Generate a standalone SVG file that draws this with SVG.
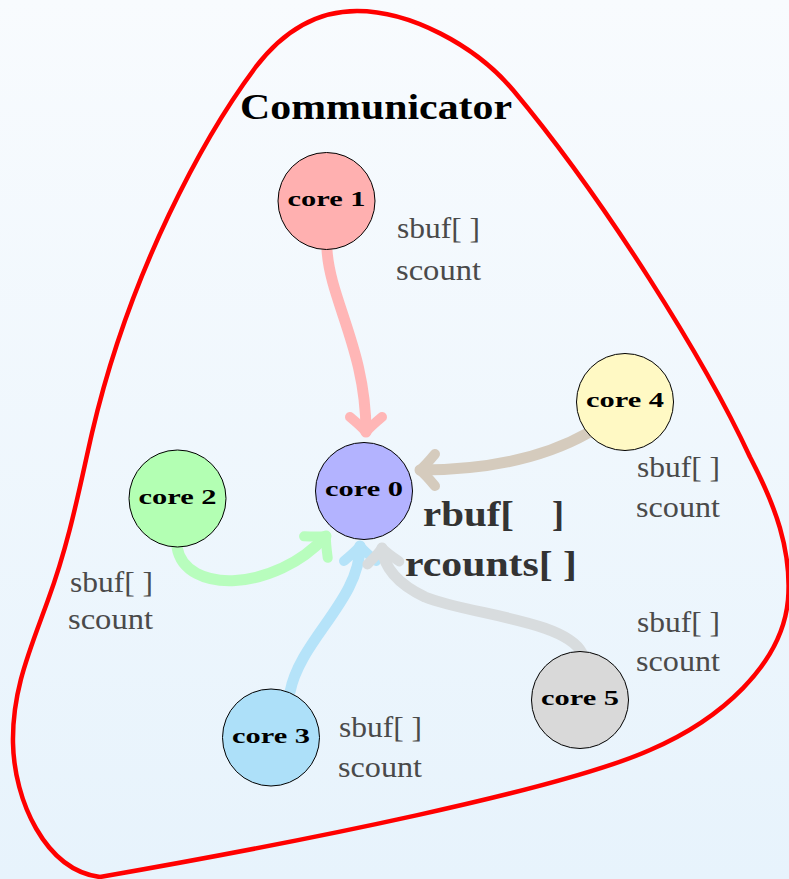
<svg xmlns="http://www.w3.org/2000/svg" width="789" height="879" viewBox="0 0 789 879">
  <defs>
    <linearGradient id="bg" x1="0" y1="0" x2="0" y2="1">
      <stop offset="0" stop-color="#f8fbfe"/>
      <stop offset="1" stop-color="#e7f3fc"/>
    </linearGradient>
    <marker id="headPink" viewBox="-20 -20 30 40" markerWidth="30" markerHeight="40" refX="0" refY="0" markerUnits="userSpaceOnUse" orient="auto" overflow="visible">
      <path class="head" d="M-15,-16 Q-5,-4 0,0 Q-5,4 -15,16" stroke="#ffb6b6"/>
    </marker>
    <marker id="headTan" viewBox="-20 -20 30 40" markerWidth="30" markerHeight="40" refX="0" refY="0" markerUnits="userSpaceOnUse" orient="auto" overflow="visible">
      <path class="head" d="M-15,-16 Q-5,-4 0,0 Q-5,4 -15,16" stroke="#d5cbbd"/>
    </marker>
    <marker id="headGreen" viewBox="-20 -20 30 40" markerWidth="30" markerHeight="40" refX="0" refY="0" markerUnits="userSpaceOnUse" orient="auto" overflow="visible">
      <path class="head" d="M-15,-16 Q-5,-4 0,0 Q-5,4 -15,16" stroke="#b8fdbd"/>
    </marker>
    <marker id="headBlue" viewBox="-20 -20 30 40" markerWidth="30" markerHeight="40" refX="0" refY="0" markerUnits="userSpaceOnUse" orient="auto" overflow="visible">
      <path class="head" d="M-15,-16 Q-5,-4 0,0 Q-5,4 -15,16" stroke="#b5e3f9"/>
    </marker>
    <marker id="headGray" viewBox="-20 -20 30 40" markerWidth="30" markerHeight="40" refX="0" refY="0" markerUnits="userSpaceOnUse" orient="auto" overflow="visible">
      <path class="head" d="M-15,-16 Q-5,-4 0,0 Q-5,4 -15,16" stroke="#d8dcde"/>
    </marker>
  </defs>
  <style>
    .head { fill: none; stroke-width: 10; stroke-linecap: round; stroke-linejoin: round; }
    .flow { fill: none; stroke-width: 11; stroke-linecap: round; }
    .core circle { stroke: #000; stroke-width: 1; }
    .core text { font-family: "Liberation Serif", "DejaVu Serif", serif; font-weight: bold; font-size: 22px; fill: #000; text-anchor: middle; }
    .buf { font-family: "Liberation Serif", "DejaVu Serif", serif; font-size: 30px; fill: #4a4a4a; }
    .recv { font-family: "Liberation Serif", "DejaVu Serif", serif; font-weight: bold; font-size: 36px; fill: #333; }
    .title { font-family: "Liberation Serif", "DejaVu Serif", serif; font-weight: bold; font-size: 36px; fill: #000; }
  </style>

  <rect x="0" y="0" width="789" height="879" fill="url(#bg)"/>

  <!-- communicator boundary -->
  <path id="communicator-boundary" fill="none" stroke="#ff0000" stroke-width="4.5" stroke-linejoin="round"
        d="M357,11 C312,11 280,35 255,68 C205,135 130,270 92,433 C80,485 70,540 48,600 C30,650 12,690 13,743 C14,800 45,870 100,877 C300,842 560,790 650,750 C720,720 782,665 788,600 C792,550 775,505 750,457 C705,360 605,200 513,90 C475,45 410,11 357,11 Z"/>
  <text class="title" x="240" y="119" textLength="272" lengthAdjust="spacingAndGlyphs">Communicator</text>

  <!-- gather flows into core 0 -->
  <g id="connectors">
    <path class="flow" stroke="#ffb6b6" marker-end="url(#headPink)" d="M327,250 C330,300 366,350 366,432"/>
    <path class="flow" stroke="#d5cbbd" marker-end="url(#headTan)" d="M588,433 C540,460 480,470 420,470"/>
    <path class="flow" stroke="#b8fdbd" marker-end="url(#headGreen)" d="M177,547 C185,595 275,592 326,536"/>
    <path class="flow" stroke="#b5e3f9" marker-end="url(#headBlue)" d="M290,692 C300,640 360,600 360,546"/>
    <path class="flow" stroke="#d8dcde" marker-end="url(#headGray)" d="M582,653 C565,620 470,615 425,597 C400,585 384,570 382,548"/>
  </g>

  <g id="core0" class="core">
    <circle cx="364" cy="491" r="48.5" fill="#b3b3ff"/>
    <text x="364" y="496" textLength="78" lengthAdjust="spacingAndGlyphs">core 0</text>
  </g>
  <g id="core1" class="core">
    <circle cx="326.5" cy="201" r="48.5" fill="#ffb0b0"/>
    <text x="326.5" y="206" textLength="78" lengthAdjust="spacingAndGlyphs">core 1</text>
  </g>
  <g id="core2" class="core">
    <circle cx="177.5" cy="498.5" r="48.5" fill="#b3ffb3"/>
    <text x="177.5" y="503.5" textLength="78" lengthAdjust="spacingAndGlyphs">core 2</text>
  </g>
  <g id="core3" class="core">
    <circle cx="271" cy="737.5" r="48.5" fill="#ade0f9"/>
    <text x="271" y="742.5" textLength="78" lengthAdjust="spacingAndGlyphs">core 3</text>
  </g>
  <g id="core4" class="core">
    <circle cx="625" cy="402" r="48.5" fill="#fff9c4"/>
    <text x="625" y="407" textLength="78" lengthAdjust="spacingAndGlyphs">core 4</text>
  </g>
  <g id="core5" class="core">
    <circle cx="580" cy="700" r="48.5" fill="#d9d9d9"/>
    <text x="580" y="705" textLength="78" lengthAdjust="spacingAndGlyphs">core 5</text>
  </g>

  <!-- send buffers -->
  <g id="send-labels">
    <text class="buf" x="397" y="238" textLength="83" lengthAdjust="spacingAndGlyphs">sbuf[ ]</text>
    <text class="buf" x="396" y="280" textLength="85" lengthAdjust="spacingAndGlyphs">scount</text>
    <text class="buf" x="637" y="477" textLength="83" lengthAdjust="spacingAndGlyphs">sbuf[ ]</text>
    <text class="buf" x="636" y="517" textLength="84" lengthAdjust="spacingAndGlyphs">scount</text>
    <text class="buf" x="637" y="632" textLength="83" lengthAdjust="spacingAndGlyphs">sbuf[ ]</text>
    <text class="buf" x="636" y="671" textLength="84" lengthAdjust="spacingAndGlyphs">scount</text>
    <text class="buf" x="70" y="592" textLength="83" lengthAdjust="spacingAndGlyphs">sbuf[ ]</text>
    <text class="buf" x="68" y="629" textLength="85" lengthAdjust="spacingAndGlyphs">scount</text>
    <text class="buf" x="339" y="737" textLength="83" lengthAdjust="spacingAndGlyphs">sbuf[ ]</text>
    <text class="buf" x="338" y="777" textLength="84" lengthAdjust="spacingAndGlyphs">scount</text>
  </g>

  <!-- receive buffers on core 0 -->
  <g id="recv-labels">
    <text class="recv" y="526"><tspan x="423" textLength="91" lengthAdjust="spacingAndGlyphs">rbuf[</tspan><tspan x="552">]</tspan></text>
    <text class="recv" x="405" y="576" textLength="172" lengthAdjust="spacingAndGlyphs">rcounts[ ]</text>
  </g>
</svg>
